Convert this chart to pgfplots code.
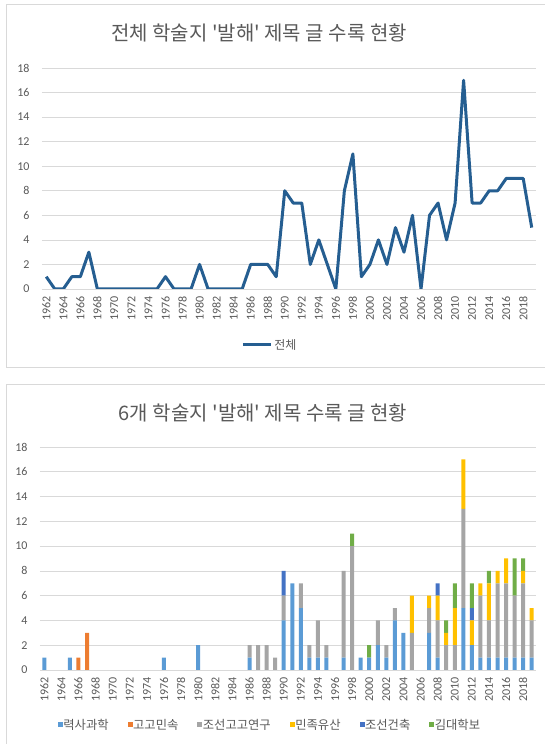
\documentclass[border=0pt]{standalone}
\usepackage{fontspec}
\setmainfont{Carlito}
\newfontfamily\kr{Noto Sans CJK KR}[Ligatures=TeXOff]
\usepackage{pgfplots}
\pgfplotsset{compat=1.18}
\usepackage{pgfplotstable}

\definecolor{txt}{HTML}{595959}
\definecolor{gridc}{HTML}{D9D9D9}
\definecolor{linec}{HTML}{255E91}
\definecolor{ca}{HTML}{5B9BD5}
\definecolor{cb}{HTML}{ED7D31}
\definecolor{cc}{HTML}{A5A5A5}
\definecolor{cd}{HTML}{FFC000}
\definecolor{ce}{HTML}{4472C4}
\definecolor{cf}{HTML}{70AD47}

\pgfplotstableread{
year a b c d e f t
1962 1 0 0 0 0 0 1
1963 0 0 0 0 0 0 0
1964 0 0 0 0 0 0 0
1965 1 0 0 0 0 0 1
1966 0 1 0 0 0 0 1
1967 0 3 0 0 0 0 3
1968 0 0 0 0 0 0 0
1969 0 0 0 0 0 0 0
1970 0 0 0 0 0 0 0
1971 0 0 0 0 0 0 0
1972 0 0 0 0 0 0 0
1973 0 0 0 0 0 0 0
1974 0 0 0 0 0 0 0
1975 0 0 0 0 0 0 0
1976 1 0 0 0 0 0 1
1977 0 0 0 0 0 0 0
1978 0 0 0 0 0 0 0
1979 0 0 0 0 0 0 0
1980 2 0 0 0 0 0 2
1981 0 0 0 0 0 0 0
1982 0 0 0 0 0 0 0
1983 0 0 0 0 0 0 0
1984 0 0 0 0 0 0 0
1985 0 0 0 0 0 0 0
1986 1 0 1 0 0 0 2
1987 0 0 2 0 0 0 2
1988 0 0 2 0 0 0 2
1989 0 0 1 0 0 0 1
1990 4 0 2 0 2 0 8
1991 7 0 0 0 0 0 7
1992 5 0 2 0 0 0 7
1993 1 0 1 0 0 0 2
1994 1 0 3 0 0 0 4
1995 1 0 1 0 0 0 2
1996 0 0 0 0 0 0 0
1997 1 0 7 0 0 0 8
1998 0 0 10 0 0 1 11
1999 1 0 0 0 0 0 1
2000 1 0 0 0 0 1 2
2001 2 0 2 0 0 0 4
2002 1 0 1 0 0 0 2
2003 4 0 1 0 0 0 5
2004 3 0 0 0 0 0 3
2005 0 0 3 3 0 0 6
2006 0 0 0 0 0 0 0
2007 3 0 2 1 0 0 6
2008 1 0 3 2 1 0 7
2009 0 0 2 1 0 1 4
2010 0 0 2 3 0 2 7
2011 5 0 8 4 0 0 17
2012 2 0 0 2 1 2 7
2013 1 0 5 1 0 0 7
2014 1 0 3 3 0 1 8
2015 1 0 6 1 0 0 8
2016 1 0 6 2 0 0 9
2017 1 0 5 0 0 3 9
2018 1 0 6 1 0 1 9
2019 1 0 3 1 0 0 5
}\data

\pgfplotsset{
  common/.style={
    scale only axis, anchor=south west,
    xmin=1961.5, xmax=2019.5, ymin=0, ymax=18,
    ytick={0,2,...,18}, xtick={1962,1964,...,2018},
    axis lines*=left,
    y axis line style={draw=none},
    x axis line style={gridc, line width=0.75pt},
    major tick length=0pt,
    ymajorgrids, grid style={gridc, line width=0.75pt},
    tick label style={txt, font=\fontsize{12}{12}\selectfont},
    /pgf/number format/assume math mode=true,
    /pgf/number format/1000 sep={},
    x tick label style={rotate=90, anchor=east},
    yticklabel shift=9pt,
    xticklabel shift=4pt,
  }
}

\begin{document}
\begin{tikzpicture}
\useasboundingbox (0pt,0pt) rectangle (545pt,744pt);
\begin{scope}
\clip (0pt,0pt) rectangle (545pt,744pt);
\draw[gridc, line width=0.75pt] (6pt,740pt) rectangle (560pt,377pt);
\draw[gridc, line width=0.75pt] (6pt,360pt) rectangle (560pt,-10pt);
\end{scope}
\node[text=txt, font=\kr\fontsize{20}{22}\selectfont] at (259pt,711pt) {전체 학술지 '발해' 제목 글 수록 현황};
\node[text=txt, font=\kr\fontsize{20}{22}\selectfont] at (263pt,331pt) {6개 학술지 '발해' 제목 수록 글 현황};

\begin{axis}[common, at={(42pt,455pt)}, width=494pt, height=221pt,
  legend style={at={(0.4615,-0.253)}, anchor=center, draw=none, fill=none,
    font=\kr\fontsize{12}{12}\selectfont, text=txt},
  legend image code/.code={\draw[#1] (0pt,0pt) -- (28pt,0pt);},
]
\addplot[linec, line width=3pt, line join=round] table[x=year,y=t]{\data};
\addlegendentry{전체}
\end{axis}

\begin{axis}[common, at={(40pt,74pt)}, width=496pt, height=223pt,
  ybar stacked, bar width=4pt,
  legend columns=6,
  legend style={at={(0.4637,-0.2466)}, anchor=center, draw=none, fill=none,
    font=\kr\fontsize{12.3}{12.3}\selectfont, text=txt,
    /tikz/every odd column/.append style={column sep=-1.5pt},
    /tikz/every even column/.append style={column sep=17pt}},
  legend image code/.code={\fill[#1] (0pt,-2.5pt) rectangle (5pt,2.5pt);},
]
\addplot[fill=ca, draw=none] table[x=year,y=a]{\data};
\addlegendentry{력사과학}
\addplot[fill=cb, draw=none] table[x=year,y=b]{\data};
\addlegendentry{고고민속}
\addplot[fill=cc, draw=none] table[x=year,y=c]{\data};
\addlegendentry{조선고고연구}
\addplot[fill=cd, draw=none] table[x=year,y=d]{\data};
\addlegendentry{민족유산}
\addplot[fill=ce, draw=none] table[x=year,y=e]{\data};
\addlegendentry{조선건축}
\addplot[fill=cf, draw=none] table[x=year,y=f]{\data};
\addlegendentry{김대학보}
\end{axis}
\end{tikzpicture}
\end{document}
